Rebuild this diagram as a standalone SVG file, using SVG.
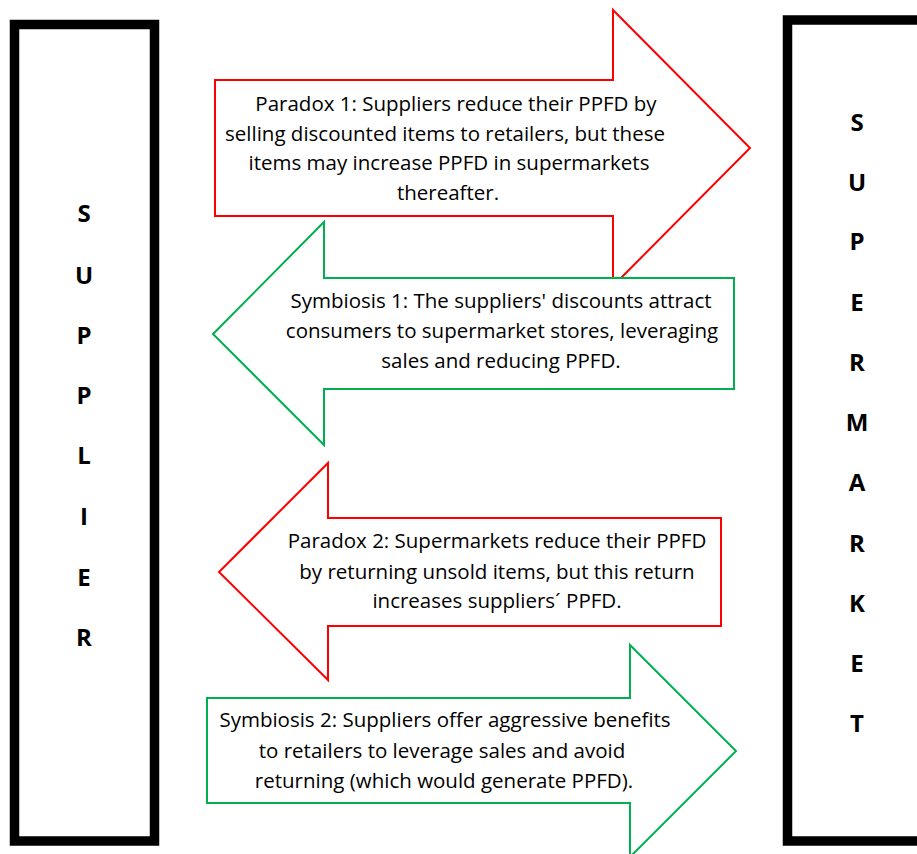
<svg xmlns="http://www.w3.org/2000/svg" width="917" height="854" viewBox="0 0 917 854">
<style>
.box{fill:#fff;stroke:#000;stroke-width:9.5}
.red{fill:#fff;stroke:#FF0000;stroke-width:2}
.green{fill:#fff;stroke:#00B050;stroke-width:2}
.t{font-family:"Open Sans","Liberation Sans",sans-serif;font-size:20.5px;fill:#000;text-anchor:middle}
.l{font-family:"Open Sans","Liberation Sans",sans-serif;font-size:24px;font-weight:bold;fill:#000;text-anchor:middle}
</style>
<rect width="917" height="854" fill="#fff"/>
<g id="supplier">
<rect class="box" x="14.5" y="24.5" width="140" height="816.5"/>
<text class="l" x="84" y="222">S</text>
<text class="l" x="84" y="284">U</text>
<text class="l" x="84" y="344">P</text>
<text class="l" x="84" y="404">P</text>
<text class="l" x="84" y="464">L</text>
<text class="l" x="84" y="525">I</text>
<text class="l" x="84" y="586">E</text>
<text class="l" x="84" y="646">R</text>
</g>
<g id="supermarket">
<rect class="box" x="787.5" y="20" width="160" height="821"/>
<text class="l" x="857" y="131">S</text>
<text class="l" x="857" y="191">U</text>
<text class="l" x="857" y="250">P</text>
<text class="l" x="857" y="311">E</text>
<text class="l" x="857" y="371">R</text>
<text class="l" x="857" y="431">M</text>
<text class="l" x="857" y="491">A</text>
<text class="l" x="857" y="552">R</text>
<text class="l" x="857" y="612">K</text>
<text class="l" x="857" y="672">E</text>
<text class="l" x="857" y="732">T</text>
</g>
<g id="connectors">
<g id="paradox1">
<polygon class="red" points="215,80 613,80 613,10 750,148 613,286 613,216 215,216"/>
<text class="t" x="456" y="111">Paradox 1: Suppliers reduce their PPFD by</text>
<text class="t" x="445" y="141">selling discounted items to retailers, but these</text>
<text class="t" x="449" y="170">items may increase PPFD in supermarkets</text>
<text class="t" x="448" y="200">thereafter.</text>
</g>
<g id="symbiosis1">
<polygon class="green" points="734,278 324,278 324,222 213,334 324,445 324,389 734,389"/>
<text class="t" x="501" y="308">Symbiosis 1: The suppliers' discounts attract</text>
<text class="t" x="502" y="338">consumers to supermarket stores, leveraging</text>
<text class="t" x="501" y="368">sales and reducing PPFD.</text>
</g>
<g id="paradox2">
<polygon class="red" points="721,518 328,518 328,463 219,572 328,680 328,626 721,626"/>
<text class="t" x="497" y="548">Paradox 2: Supermarkets reduce their PPFD</text>
<text class="t" x="497" y="579">by returning unsold items, but this return</text>
<text class="t" x="497" y="608">increases suppliers´ PPFD.</text>
</g>
<g id="symbiosis2">
<polygon class="green" points="207,698 630,698 630,645 736,751 630,857 630,803 207,803"/>
<text class="t" x="445" y="727">Symbiosis 2: Suppliers offer aggressive benefits</text>
<text class="t" x="442" y="758">to retailers to leverage sales and avoid</text>
<text class="t" x="444" y="788">returning (which would generate PPFD).</text>
</g>
</g>
</svg>
